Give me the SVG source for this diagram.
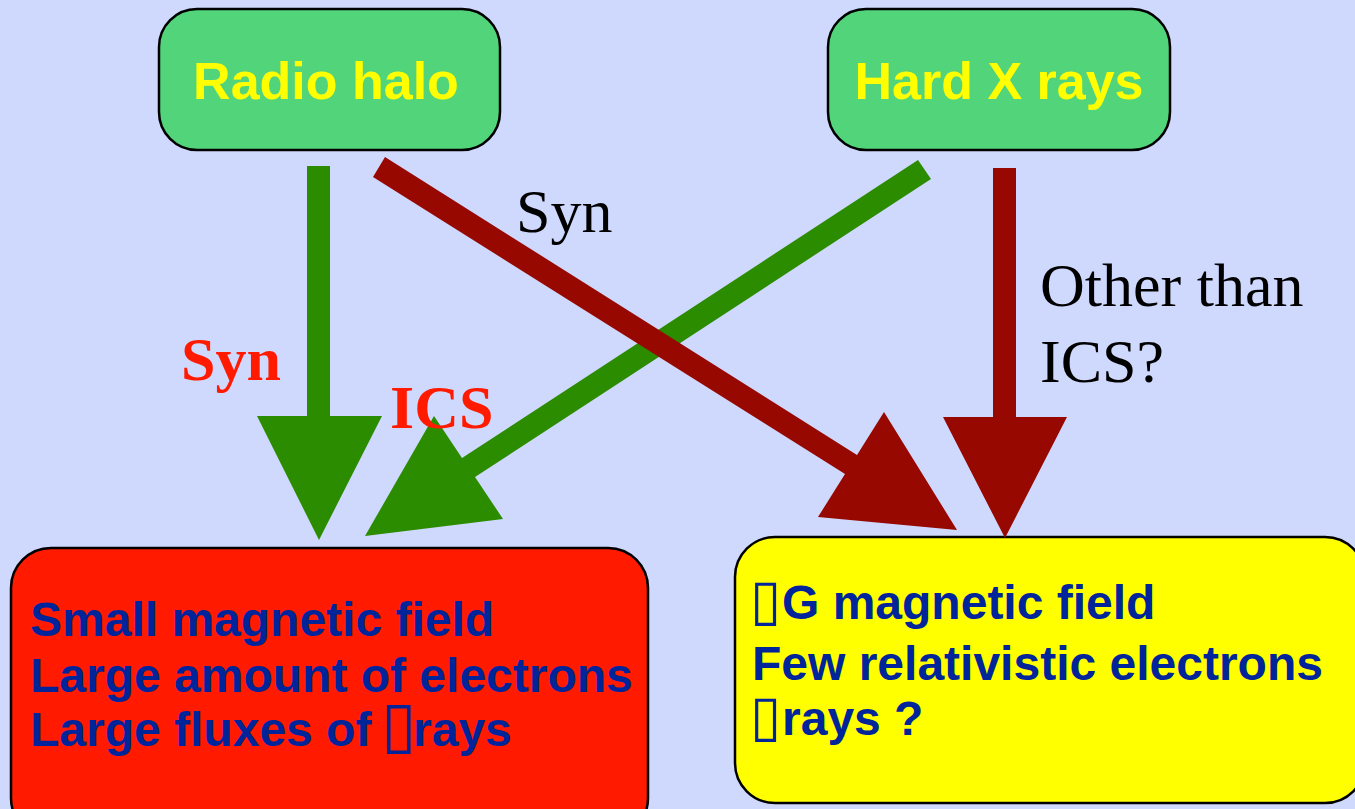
<svg xmlns="http://www.w3.org/2000/svg" width="1355" height="809" viewBox="0 0 1355 809">
<style>
.box{stroke:#000;stroke-width:2.5}
.top{fill:#52d47b}
.ttl{font-family:"Liberation Sans",Arial,sans-serif;font-weight:bold;font-size:52px;fill:#ffff00;text-anchor:middle}
.body{font-family:"Liberation Sans",Arial,sans-serif;font-weight:bold;font-size:48px;fill:#00249a}
.tofu{font-family:"DejaVu Sans",sans-serif;font-weight:normal;font-size:64px}
.tofu2{font-family:"DejaVu Sans",sans-serif;font-weight:normal;font-size:57px}
.lbl{font-family:"Liberation Serif","Times New Roman",serif;font-size:62px;fill:#000}
.lblr{font-family:"Liberation Serif","Times New Roman",serif;font-size:62px;font-weight:bold;fill:#ff1a00}
.g{fill:#2b8c00}
.r{fill:#960800}
</style>
<rect width="1355" height="809" fill="#cfd8fd"/>
<g id="radio-halo">
<rect class="box top" x="159" y="9" width="341" height="141" rx="38"/>
<text class="ttl" x="326" y="99">Radio halo</text>
</g>
<g id="hard-x-rays">
<rect class="box top" x="828" y="9" width="342" height="141" rx="38"/>
<text class="ttl" x="999" y="99">Hard X rays</text>
</g>
<g id="small-field">
<rect class="box" x="11" y="548" width="637" height="290" rx="40" fill="#ff1a00"/>
<text class="body" x="30" y="636">Small magnetic field</text>
<text class="body" x="30" y="692">Large amount of electrons</text>
<text class="body" x="30" y="746">Large fluxes of <tspan class="tofu" x="381">▯</tspan><tspan x="413">rays</tspan></text>
</g>
<g id="muG-field">
<rect class="box" x="735" y="537" width="630" height="266" rx="40" fill="#ffff00"/>
<text class="body" x="752" y="619"><tspan class="tofu2" x="750">▯</tspan><tspan x="782">G magnetic field</tspan></text>
<text class="body" x="752" y="680">Few relativistic electrons</text>
<text class="body" x="752" y="735"><tspan class="tofu2" x="750">▯</tspan><tspan x="782">rays ?</tspan></text>
</g>
<g id="connectors">
<polygon class="g" points="307,166 330,166 330,416 382,416 319,540 257,416 307,416"/>
<polygon class="g" points="918,160 462,458 434,416 365,536 503,519 475,477 931,179"/>
<polygon class="r" points="993,168 1016,168 1016,417 1067,417 1005,538 943,417 993,417"/>
<polygon class="r" points="385,157 857,455 884,412 957,530 818,517 845,474 373,177"/>
</g>
<g id="labels">
<text class="lbl" x="516" y="232">Syn</text>
<text class="lbl" x="1040" y="306">Other than</text>
<text class="lbl" x="1040" y="382">ICS?</text>
<text class="lblr" x="181" y="380">Syn</text>
<text class="lblr" x="390" y="428">ICS</text>
</g>
</svg>
